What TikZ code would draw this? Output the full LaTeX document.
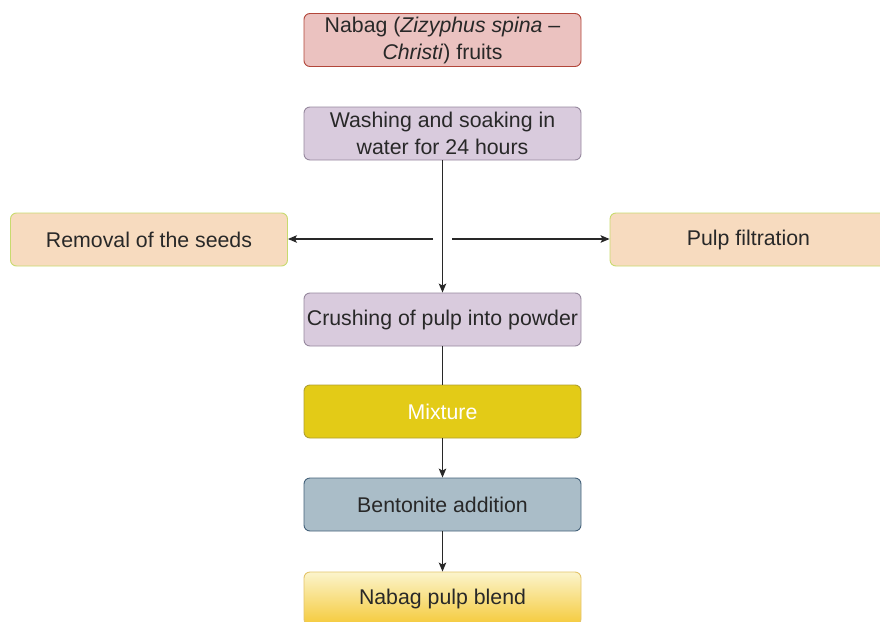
\documentclass[tikz,border=0pt]{standalone}
\usepackage{xcolor}
\usepackage{tikz}
\usepackage{fontspec}
\setmainfont{Liberation Sans}
\usetikzlibrary{shapes.geometric, arrows, arrows.meta, positioning, calc}
\definecolor{fruitred}{RGB}{235, 194, 192}
\definecolor{fruitedge}{RGB}{178, 70, 58}
\definecolor{washlilac}{RGB}{217, 203, 221}
\definecolor{washedge}{RGB}{150, 136, 158}
\definecolor{sidepeach}{RGB}{247, 219, 191}
\definecolor{sideedge}{RGB}{200, 218, 110}
\definecolor{mixgold}{RGB}{227, 203, 23}
\definecolor{mixedge}{RGB}{176, 160, 48}
\definecolor{bentblue}{RGB}{170, 189, 200}
\definecolor{bentedge}{RGB}{68, 98, 122}
\definecolor{blendtop}{RGB}{251, 244, 204}
\definecolor{blendbot}{RGB}{245, 202, 58}
\definecolor{blendedge}{RGB}{228, 196, 106}
\definecolor{inkgray}{RGB}{40, 40, 40}

\begin{document}
\begin{tikzpicture}[x=1pt, y=-1pt,
    procbox/.style={rounded corners=6pt, line width=0.9pt, minimum width=277pt,
        minimum height=53pt, align=center, inner sep=2pt, text=inkgray,
        font=\fontsize{21.3}{27}\selectfont},
    flow/.style={draw=inkgray, line width=1.2pt,
        -{Stealth[length=9pt, width=7.5pt, inset=2pt]}}]
    \useasboundingbox (0,0) rectangle (880,621);
    % main column
    \node[procbox, fill=fruitred, draw=fruitedge] (fruits) at (442.5,40)
        {Nabag (\textit{Zizyphus spina} --\\ \textit{Christi}) fruits};
    \node[procbox, fill=washlilac, draw=washedge] (washing) at (442.5,133.5)
        {Washing and soaking in\\ water for 24 hours};
    \node[procbox, fill=washlilac, draw=washedge] (crushing) at (442.5,319.5)
        {Crushing of pulp into powder};
    \node[procbox, fill=mixgold, draw=mixedge, text=white] (mixture) at (442.5,411.5)
        {Mixture};
    \node[procbox, fill=bentblue, draw=bentedge] (bentonite) at (442.5,504.5)
        {Bentonite addition};
    \node[procbox, top color=blendtop, bottom color=blendbot, draw=blendedge] (blend) at (442.5,598.5)
        {Nabag pulp blend};
    % side steps
    \node[procbox, fill=sidepeach, draw=sideedge] (seeds) at (149,239.5)
        {Removal of the seeds};
    \node[procbox, fill=sidepeach, draw=sideedge] (filtration) at (748.5,239.5)
        {Pulp filtration};
    \coordinate (leftstart) at (433,239);
    \coordinate (rightstart) at (452,239);

    \draw[flow] (washing) -- (crushing);
    \draw[flow] (leftstart) -- (seeds.east |- leftstart);
    \draw[flow] (rightstart) -- (filtration.west |- rightstart);
    \draw[draw=inkgray, line width=1.2pt] (crushing) -- (mixture);
    \draw[flow] (mixture) -- (bentonite);
    \draw[flow] (bentonite) -- (blend);
\end{tikzpicture}
\end{document}
